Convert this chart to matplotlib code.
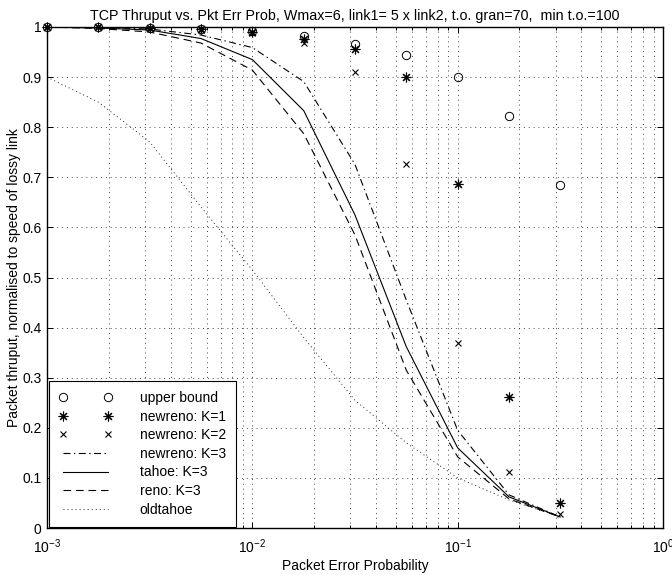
import matplotlib
matplotlib.use("Agg")
import matplotlib.pyplot as plt
from matplotlib.ticker import FixedLocator, FixedFormatter, LogLocator, NullFormatter

plt.rcParams['font.family'] = ['Liberation Sans', 'DejaVu Sans']
plt.rcParams['lines.scale_dashes'] = False
plt.rcParams['mathtext.fontset'] = 'custom'
plt.rcParams['mathtext.rm'] = 'Liberation Sans'

# ---- data ----
pkt_err = [0.001, 0.00178, 0.00316, 0.00562, 0.01, 0.0178, 0.0316, 0.0562, 0.1, 0.178, 0.316]
upper_bound = [1.0, 1.0, 0.999, 0.997, 0.992, 0.983, 0.967, 0.944, 0.901, 0.823, 0.684]
newreno_k1 = [1.0, 1.0, 0.999, 0.996, 0.99, 0.976, 0.957, 0.900, 0.686, 0.262, 0.05]
newreno_k2 = [1.0, 1.0, 0.998, 0.995, 0.989, 0.969, 0.911, 0.727, 0.37, 0.112, 0.027]
newreno_k3 = [1.0, 0.999, 0.996, 0.984, 0.959, 0.891, 0.726, 0.455, 0.195, 0.066, 0.022]
tahoe_k3 = [1.0, 0.998, 0.994, 0.977, 0.935, 0.833, 0.625, 0.362, 0.160, 0.062, 0.022]
reno_k3 = [1.0, 0.997, 0.99, 0.968, 0.914, 0.787, 0.585, 0.315, 0.142, 0.058, 0.022]
oldtahoe = [0.9, 0.85, 0.771, 0.641, 0.515, 0.38, 0.255, 0.17, 0.10, 0.056, 0.022]

yticks = [0, 0.1, 0.2, 0.3, 0.4, 0.5, 0.6, 0.7, 0.8, 0.9, 1.0]
ytick_labels = ['0', '0.1', '0.2', '0.3', '0.4', '0.5', '0.6', '0.7', '0.8', '0.9', '1']

title = "TCP Thruput vs. Pkt Err Prob, Wmax=6, link1= 5 x link2, t.o. gran=70,  min t.o.=100"
xlabel = "Packet Error Probability"
ylabel = "Packet thruput, normalised to speed of lossy link"

# ---- figure ----
fs = 10
fig = plt.figure(figsize=(6.72, 5.75), dpi=100)
ax = fig.add_axes([47/672, 1-528/575, (663-47)/672, (528-27)/575])

lw = 0.8
ax.plot(pkt_err, upper_bound, linestyle='none', marker='o', ms=6, mfc='none', mec='k',
        mew=0.7, clip_on=False, label='upper bound', zorder=5)
ax.plot(pkt_err, newreno_k1, linestyle='none', marker=(8, 2, 0), ms=7, mec='k',
        mew=0.8, clip_on=False, label='newreno: K=1', zorder=5)
ax.plot(pkt_err, newreno_k2, linestyle='none', marker='x', ms=5, mec='k',
        mew=0.8, clip_on=False, label='newreno: K=2', zorder=5)
ax.plot(pkt_err, newreno_k3, color='k', lw=lw, dashes=(5, 2.5, 1, 2.5), label='newreno: K=3')
ax.plot(pkt_err, tahoe_k3, color='k', lw=lw, linestyle='-', label='tahoe: K=3')
ax.plot(pkt_err, reno_k3, color='k', lw=lw, dashes=(5.5, 3.5), label='reno: K=3')
ax.plot(pkt_err, oldtahoe, color='k', lw=0.6, dashes=(0.7, 2.2), label='oldtahoe')

ax.set_xscale('log')
ax.set_xlim(1e-3, 1)
ax.set_ylim(0, 1)
ax.yaxis.set_major_locator(FixedLocator(yticks))
ax.yaxis.set_major_formatter(FixedFormatter(ytick_labels))
ax.xaxis.set_major_locator(LogLocator(base=10, numticks=10))
ax.xaxis.set_minor_locator(LogLocator(base=10, subs=[2, 3, 4, 5, 6, 7, 8, 9], numticks=10))
ax.xaxis.set_minor_formatter(NullFormatter())

ax.grid(True, which='major', axis='both', color='k', lw=0.5, dashes=(0.7, 2.8))
ax.grid(True, which='minor', axis='x', color='k', lw=0.5, dashes=(0.7, 2.8))

ax.tick_params(which='both', direction='in', top=True, right=True, labelsize=fs, color='k', width=0.7)
ax.tick_params(which='major', length=4)
ax.tick_params(which='minor', length=2.5)
ax.tick_params(axis='x', which='major', pad=7)
ax.tick_params(axis='y', which='major', pad=4)
for s in ax.spines.values():
    s.set_linewidth(1.0)

ax.set_title(title, fontsize=10.3, pad=5)
ax.set_xlabel(xlabel, fontsize=fs, labelpad=2)
ax.set_ylabel(ylabel, fontsize=fs, labelpad=1)

leg = ax.legend(loc='lower left', bbox_to_anchor=(0.003, 0.002), borderaxespad=0,
                numpoints=2, fontsize=fs, handlelength=3.8, handletextpad=2.0,
                labelspacing=0.33, fancybox=False, framealpha=1, edgecolor='k',
                borderpad=0.75)
leg.get_frame().set_linewidth(0.8)

fig.savefig('out.png', dpi=100)
